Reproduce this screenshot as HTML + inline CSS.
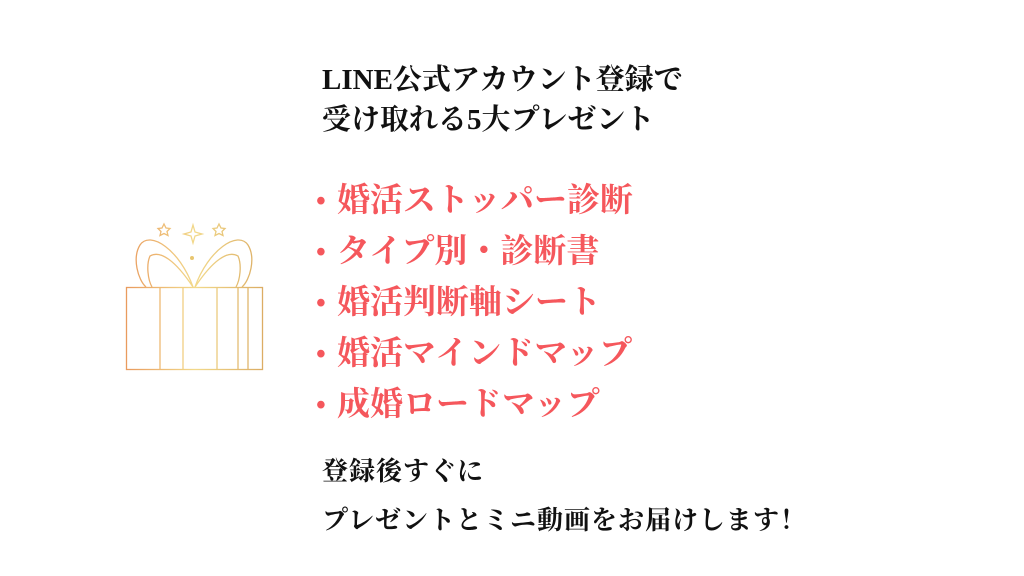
<!DOCTYPE html>
<html><head><meta charset="utf-8"><style>
body{margin:0;width:1024px;height:576px;background:#fff;position:relative;overflow:hidden;font-family:"Liberation Serif","Noto Serif CJK SC",serif;font-weight:bold}
.t{position:absolute;left:322px;color:#111;font-size:29px;line-height:40px;white-space:nowrap}
.r{position:absolute;left:337px;color:#f5575c;font-size:33px;line-height:51px;white-space:nowrap}
.r b{position:absolute;left:-21px;font-size:28px}
</style></head><body>
<div class="t" style="top:60px">LINE公式アカウント登録で<br>受け取れる5大プレゼント</div>
<div class="r" style="top:176px"><div style="position:relative"><b>•</b>婚活ストッパー診断</div><div style="position:relative"><b>•</b>タイプ別・診断書</div><div style="position:relative"><b>•</b>婚活判断軸シート</div><div style="position:relative"><b>•</b>婚活マインドマップ</div><div style="position:relative"><b>•</b>成婚ロードマップ</div></div>
<div class="t" style="top:448px;font-size:26px;line-height:47px;letter-spacing:1px">登録後すぐに<br>プレゼントとミニ動画をお届けします<span style="font-family:'Noto Serif CJK SC',serif">！</span></div>
<svg style="position:absolute;left:120px;top:210px" width="150" height="170" viewBox="0 0 150 170">
<defs><linearGradient id="g" gradientUnits="userSpaceOnUse" x1="0" y1="0" x2="150" y2="0"><stop offset="0" stop-color="#e8955a"/><stop offset=".5" stop-color="#f2d98a"/><stop offset="1" stop-color="#d9a860"/></linearGradient></defs>
<g fill="none" stroke="url(#g)" stroke-width="1.3">
<rect x="6.5" y="77.5" width="136" height="82"/>
<line x1="40" y1="78" x2="40" y2="160"/><line x1="63" y1="78" x2="63" y2="160"/>
<line x1="97" y1="78" x2="97" y2="160"/><line x1="118" y1="78" x2="118" y2="160"/><line x1="128" y1="78" x2="128" y2="160"/>
<path d="M73 77 C60 40,30 20,20 35 C12 48,18 70,26 77"/>
<path d="M73 77 C55 50,40 40,30 46 C26 55,28 70,32 77"/>
<path d="M75 77 C88 40,118 20,128 35 C136 48,130 70,122 77"/>
<path d="M75 77 C93 50,108 40,118 46 C122 55,120 70,116 77"/>
<path d="M73 15 L75 22 L82 24 L75 26 L73 33 L71 26 L64 24 L71 22 Z"/>
<path d="M44 14 l2 4 4 .5 -3 3 1 4 -4 -2 -4 2 1 -4 -3 -3 4 -.5z"/>
<path d="M99 14 l2 4 4 .5 -3 3 1 4 -4 -2 -4 2 1 -4 -3 -3 4 -.5z"/>
</g><circle cx="72" cy="48" r="2" fill="#e8c670"/>
</svg>
</body></html>
